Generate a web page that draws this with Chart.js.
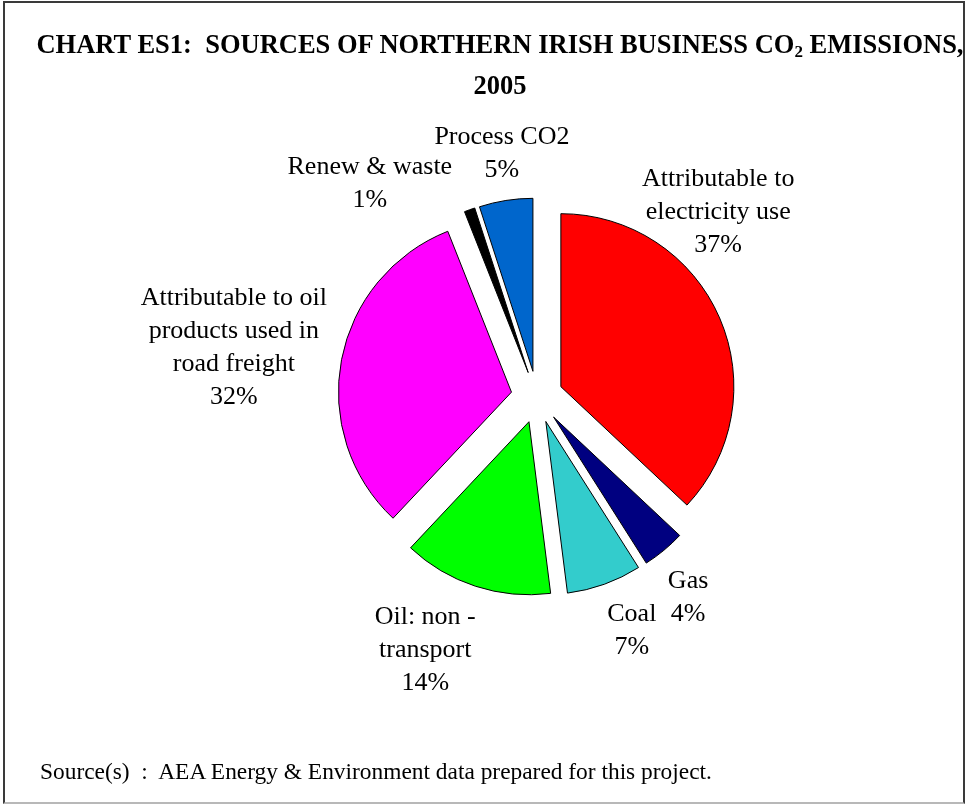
<!DOCTYPE html>
<html>
<head>
<meta charset="utf-8">
<title>Chart ES1</title>
<script src="https://cdn.jsdelivr.net/npm/chart.js@4.4.0/dist/chart.umd.min.js"></script>
<style>
  html, body { margin: 0; padding: 0; background: #fff; overflow: hidden; }
  .page { position: relative; width: 968px; height: 805px; }
  .frame {
    position: absolute; left: 3px; top: 1px; width: 962px; height: 803px;
    box-sizing: border-box; border: 2px solid #3a3a3a; border-bottom-color: #b8b8b8;
  }
  #pie { position: absolute; left: 0; top: 0; }
  .title {
    position: absolute; left: 0; top: 24px; width: 1000px; text-align: center;
    font: bold 26.5px "Liberation Serif", "Times New Roman", serif; line-height: 41px;
    white-space: pre; color: #000;
  }
  .title sub { font-size: 17px; line-height: 0; vertical-align: -4px; }
  .source {
    position: absolute; left: 40px; top: 758px;
    font: 23.4px "Liberation Serif", "Times New Roman", serif; white-space: pre; color: #000;
  }
</style>
</head>
<body>
<div class="page">
  <canvas id="pie" width="968" height="805"></canvas>
  <div class="frame"></div>
  <div class="title">CHART ES1:  SOURCES OF NORTHERN IRISH BUSINESS CO<sub>2</sub> EMISSIONS,
2005</div>
  <div class="source">Source(s)  :  AEA Energy &amp; Environment data prepared for this project.</div>
</div>

<script>
// sources of business CO2, share of total (%)
const categories = [
  ['Attributable to', 'electricity use'],
  ['Gas'],
  ['Coal'],
  ['Oil: non -', 'transport'],
  ['Attributable to oil', 'products used in', 'road freight'],
  ['Renew & waste'],
  ['Process CO2']
];
const shares = [37, 4, 7, 14, 32, 1, 5];
const sliceColours = ['#ff0000', '#000080', '#33cccc', '#00ff00', '#ff00ff', '#000000', '#0066cc'];

// where each label block sits: [degrees clockwise from 12 o'clock, distance in pie radii]
const labelSpots = [[44.4, 1.497], [143, 1.451], [157.9, 1.457], [203.8, 1.601], [279.2, 1.775], [321.9, 1.566], [351.8, 1.422]];

const EXPLODE = 26;   // every slice pulled out from the centre by this much
const LINE_H = 33;

// chart.js shrinks exploded slices when using `offset`, so push them out here instead
const explodedSlices = {
  id: 'explodedSlices',
  beforeDatasetDraw(chart, args) {
    const ctx = chart.ctx;
    args.meta.data.forEach(arc => {
      const mid = (arc.startAngle + arc.endAngle) / 2;
      ctx.save();
      ctx.translate(Math.cos(mid) * EXPLODE, Math.sin(mid) * EXPLODE);
      arc.draw(ctx);
      ctx.restore();
    });
    return false;
  }
};

// writes name + percentage next to each slice
const sliceLabels = {
  id: 'sliceLabels',
  afterDatasetsDraw(chart) {
    const ctx = chart.ctx;
    const arcs = chart.getDatasetMeta(0).data;
    ctx.save();
    ctx.font = '26px "Liberation Serif", "Times New Roman", serif';
    ctx.fillStyle = '#000';
    ctx.textAlign = 'center';
    ctx.textBaseline = 'middle';
    arcs.forEach((arc, i) => {
      const [deg, k] = labelSpots[i];
      const a = deg * Math.PI / 180;
      const cx = arc.x + Math.sin(a) * k * arc.outerRadius;
      const cy = arc.y - Math.cos(a) * k * arc.outerRadius;
      const lines = categories[i].concat([shares[i] + '%']);
      const y0 = cy - (lines.length - 1) * LINE_H / 2;
      lines.forEach((t, j) => ctx.fillText(t, cx, y0 + j * LINE_H));
    });
    ctx.restore();
  }
};

new Chart(document.getElementById('pie'), {
  type: 'pie',
  data: {
    labels: categories.map(c => c.join(' ')),
    datasets: [{
      data: shares,
      backgroundColor: sliceColours,
      borderColor: '#000',
      borderWidth: 1,
      borderJoinStyle: 'miter',
      hoverOffset: 0,
      radius: 173
    }]
  },
  options: {
    responsive: false,
    animation: false,
    layout: { padding: { left: 200, right: 94, top: 150, bottom: 161 } },
    plugins: {
      legend: { display: false },
      tooltip: { enabled: false }
    }
  },
  plugins: [explodedSlices, sliceLabels]
});
</script>
</body>
</html>
